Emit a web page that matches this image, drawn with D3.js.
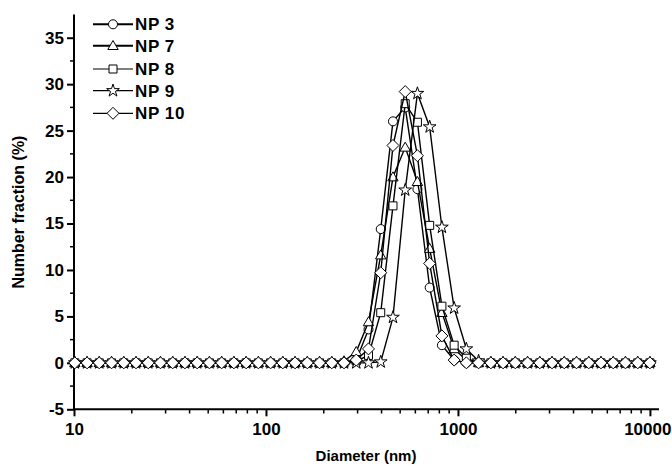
<!DOCTYPE html>
<html>
<head>
<meta charset="utf-8">
<script src="https://cdn.jsdelivr.net/npm/d3@7"></script>
<style>
  body { margin: 0; background: #fff; }
  text { font-family: Arial, "Liberation Sans", sans-serif; font-weight: bold; fill: #000; }
</style>
</head>
<body>
<div id="chart"></div>
<script>
// DATA
////////////////////////////
// size classes (nm), log spaced
var diameters = [10.10, 11.70, 13.54, 15.69, 18.17, 21.04, 24.36, 28.21, 32.67, 37.84,
  43.82, 50.75, 58.77, 68.06, 78.82, 91.28, 105.7, 122.4, 141.8, 164.2,
  190.1, 220.2, 255.0, 295.3, 342.0, 396.1, 458.7, 531.2, 615.1, 712.4,
  825.0, 955.4, 1106, 1281, 1484, 1718, 1990, 2305, 2669, 3091,
  3580, 4145, 4801, 5560, 6439, 7456, 8635, 10000];

var np3  = [0,0,0,0,0,0,0,0,0,0, 0,0,0,0,0,0,0,0,0,0, 0,0,0,0.3,3.6,14.4,26.0,27.5,18.7,8.1, 1.9,0.3,0,0,0,0,0,0,0,0, 0,0,0,0,0,0,0,0];
var np7  = [0,0,0,0,0,0,0,0,0,0, 0,0,0,0,0,0,0,0,0,0, 0,0,0.2,1.2,4.4,11.6,20.0,23.2,19.5,12.3, 5.4,1.5,0.3,0,0,0,0,0,0,0, 0,0,0,0,0,0,0,0];
var np8  = [0,0,0,0,0,0,0,0,0,0, 0,0,0,0,0,0,0,0,0,0, 0,0,0,0.2,0.8,5.4,16.9,27.9,25.9,14.8, 6.1,1.9,0.5,0,0,0,0,0,0,0, 0,0,0,0,0,0,0,0];
var np9  = [0,0,0,0,0,0,0,0,0,0, 0,0,0,0,0,0,0,0,0,0, 0,0,0,0,0,0.1,4.9,18.6,29.0,25.4, 14.6,5.9,1.5,0.2,0,0,0,0,0,0, 0,0,0,0,0,0,0,0];
var np10 = [0,0,0,0,0,0,0,0,0,0, 0,0,0,0,0,0,0,0,0,0, 0,0,0,0.3,1.5,9.7,23.4,29.2,22.3,10.7, 2.9,0.3,0,0,0,0,0,0,0,0, 0,0,0,0,0,0,0,0];

var seriesNames = ["NP 3", "NP 7", "NP 8", "NP 9", "NP 10"];
var seriesVals = [np3, np7, np8, np9, np10];
var seriesMarks = ["circle", "triangle", "square", "star", "diamond"];

var xTicks = [10, 100, 1000, 10000];
var yTicks = [-5, 0, 5, 10, 15, 20, 25, 30, 35];

// SETUP
////////////////////////////
var width = 672,
    height = 466;

var svg = d3.select("#chart").append("svg")
    .attr("width", width)
    .attr("height", height);

var x = d3.scaleLog()
    .domain([10, 11150])
    .range([74, 659]);

var y = d3.scaleLinear()
    .domain([-5, 37.5])
    .range([409.3, 14.5]);

// marker shapes (custom so the diamond is a square on its corner)
function markPath(kind) {
  if (kind == "circle") return d3.symbol(d3.symbolCircle, 64)();
  if (kind == "triangle") return "M0,-5.2L5.2,3.8L-5.2,3.8Z";
  if (kind == "square") return "M-4,-4H4V4H-4Z";
  if (kind == "star") return d3.symbol(d3.symbolStar, 50)();
  return "M0,-6L6,0L0,6L-6,0Z";
}

var plainNum = function(d) { return String(d); };  // keep hyphen minus like the original

// AXES
////////////////////////////
var yAxis = svg.append("g")
    .attr("transform", "translate(74,0)")
    .call(d3.axisLeft(y).tickValues(yTicks).tickSize(7).tickPadding(3).tickFormat(plainNum));

// minor y ticks
svg.append("g").selectAll("line")
  .data(d3.range(-2.5, 37.5, 5))
  .enter().append("line")
    .attr("x1", 70).attr("x2", 74)
    .attr("y1", function(d) { return y(d); })
    .attr("y2", function(d) { return y(d); })
    .attr("stroke", "#000").attr("stroke-width", 1.5);

var xAxis = svg.append("g")
    .attr("transform", "translate(0,409.3)")
    .call(d3.axisBottom(x).tickValues(xTicks).tickSize(7).tickPadding(7).tickFormat(plainNum));

// minor x ticks
var minorX = [];
[10, 100, 1000].forEach(function(dec) {
  for (var k = 2; k <= 9; k++) minorX.push(dec * k);
});
svg.append("g").selectAll("line")
  .data(minorX)
  .enter().append("line")
    .attr("x1", function(d) { return x(d); })
    .attr("x2", function(d) { return x(d); })
    .attr("y1", 409.3).attr("y2", 413.5)
    .attr("stroke", "#000").attr("stroke-width", 1.5);

[yAxis, xAxis].forEach(function(ax) {
  ax.select(".domain").attr("stroke-width", 2).attr("d",
    ax === yAxis ? "M0,14.5V409.3" : "M74,0H659");
  ax.selectAll(".tick line").attr("stroke-width", 2);
  ax.selectAll(".tick text").style("font-size", "17px").style("font-family", "Arial, 'Liberation Sans', sans-serif").style("font-weight", "bold");
});

// last label sits on the page edge - nudge it in so it isn't clipped
xAxis.selectAll(".tick text")
  .filter(function(d) { return d == 10000; })
  .attr("text-anchor", "end")
  .attr("dx", 21);

// axis titles
svg.append("text")
    .attr("x", 366).attr("y", 461)
    .attr("text-anchor", "middle")
    .style("font-size", "15px")
    .text("Diameter (nm)");

svg.append("text")
    .attr("transform", "translate(24,212) rotate(-90)")
    .attr("text-anchor", "middle")
    .style("font-size", "16px")
    .text("Number fraction (%)");

// SERIES
////////////////////////////
var line = d3.line()
    .x(function(d, i) { return x(diameters[i]); })
    .y(function(d) { return y(d); });

seriesVals.forEach(function(vals, s) {
  var g = svg.append("g").attr("class", "series");
  g.append("path")
    .attr("d", line(vals))
    .attr("fill", "none")
    .attr("stroke", "#000")
    .attr("stroke-width", 1.4);
  g.selectAll("path.mark")
    .data(vals)
    .enter().append("path")
      .attr("class", "mark")
      .attr("d", markPath(seriesMarks[s]))
      .attr("transform", function(d, i) { return "translate(" + x(diameters[i]) + "," + y(d) + ")"; })
      .attr("fill", "#fff")
      .attr("stroke", "#000")
      .attr("stroke-width", 1);
});

// LEGEND
////////////////////////////
var legendY = [24.3, 45.7, 69, 90.7, 113.3];
var legend = svg.append("g");
seriesNames.forEach(function(name, s) {
  var ly = legendY[s];
  legend.append("line")
    .attr("x1", 93).attr("x2", 133)
    .attr("y1", ly).attr("y2", ly)
    .attr("stroke", "#000")
    .attr("stroke-width", s < 2 ? 2 : 1.2);
  legend.append("path")
    .attr("d", markPath(seriesMarks[s]))
    .attr("transform", "translate(113," + ly + ")")
    .attr("fill", "#fff").attr("stroke", "#000").attr("stroke-width", 1);
  legend.append("text")
    .attr("x", 135).attr("y", ly + 6)
    .style("font-size", "17px")
    .style("letter-spacing", "0.6px")
    .text(name);
});
</script>
</body>
</html>
